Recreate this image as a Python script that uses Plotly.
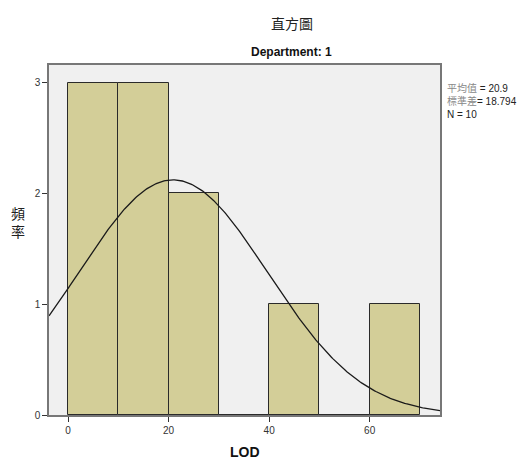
import numpy as np
import plotly.graph_objects as go

bin_starts = [0, 10, 20, 30, 40, 50, 60]
counts = [3, 3, 2, 0, 1, 0, 1]
bin_width = 10
mean_val = 20.9
sd_val = 18.794
n_val = 10
x_ticks = [0, 20, 40, 60]
y_ticks = [0, 1, 2, 3]

fig = go.Figure()

centers = [s + bin_width / 2 for s in bin_starts]
fig.add_trace(go.Bar(
    x=centers, y=counts, width=[bin_width] * len(counts),
    marker=dict(color="#d3ce98", line=dict(color="#2a2a2a", width=1)),
    hoverinfo="skip", showlegend=False,
))

xs = np.linspace(-3.8, 74, 300)
ys = n_val * bin_width / (sd_val * np.sqrt(2 * np.pi)) * np.exp(-0.5 * ((xs - mean_val) / sd_val) ** 2)
fig.add_trace(go.Scatter(x=xs, y=ys, mode="lines",
                         line=dict(color="#1a1a1a", width=1.3),
                         hoverinfo="skip", showlegend=False))

font_family = "Liberation Sans, Arial, Noto Sans CJK TC, sans-serif"

fig.update_layout(
    width=517, height=459,
    margin=dict(l=49, r=77, t=65, b=44),
    paper_bgcolor="white", plot_bgcolor="#f0f0f0",
    bargap=0,
    font=dict(family=font_family, size=10, color="#222"),
    xaxis=dict(range=[-3.8, 74], tickvals=x_ticks, ticks="outside", ticklen=5,
               tickcolor="#333", showgrid=False, zeroline=False,
               showline=True, linecolor="#777", linewidth=1.5, mirror=True,
               tickfont=dict(size=10, color="#333")),
    yaxis=dict(range=[0, 3.16], tickvals=y_ticks, ticks="outside", ticklen=5,
               tickcolor="#333", showgrid=False, zeroline=False,
               showline=True, linecolor="#777", linewidth=1.5, mirror=True,
               tickfont=dict(size=10, color="#333")),
)

fig.add_annotation(text="直方圖", xref="paper", yref="paper", x=0.621, y=1,
                   yshift=42, showarrow=False, xanchor="center", yanchor="middle",
                   font=dict(size=14, color="#222", family="Noto Sans CJK TC, sans-serif"))
fig.add_annotation(text="<b>Department: 1</b>", xref="paper", yref="paper", x=0.621, y=1,
                   yshift=13, showarrow=False, xanchor="center", yanchor="middle",
                   font=dict(size=12, color="#111"))
fig.add_annotation(text="<b>LOD</b>", xref="paper", yref="paper", x=0.502, y=0,
                   yshift=-37, showarrow=False, xanchor="center", yanchor="middle",
                   font=dict(size=14, color="#111"))
fig.add_annotation(text="頻<br>率", xref="paper", yref="paper", x=0, xshift=-31, y=0.55,
                   showarrow=False, xanchor="center", yanchor="middle",
                   font=dict(size=14, color="#222", family="Noto Sans CJK TC, sans-serif"))
stats = (f"<span style='color:#888'>平均值</span> = {mean_val}<br>"
         f"<span style='color:#888'>標準差</span>= {sd_val}<br>"
         f"N = {n_val}")
fig.add_annotation(text=stats, xref="paper", yref="paper", x=1, xshift=5, y=0.958,
                   showarrow=False, xanchor="left", yanchor="top", align="left",
                   font=dict(size=10, color="#222"))

fig.write_html("out.html")
